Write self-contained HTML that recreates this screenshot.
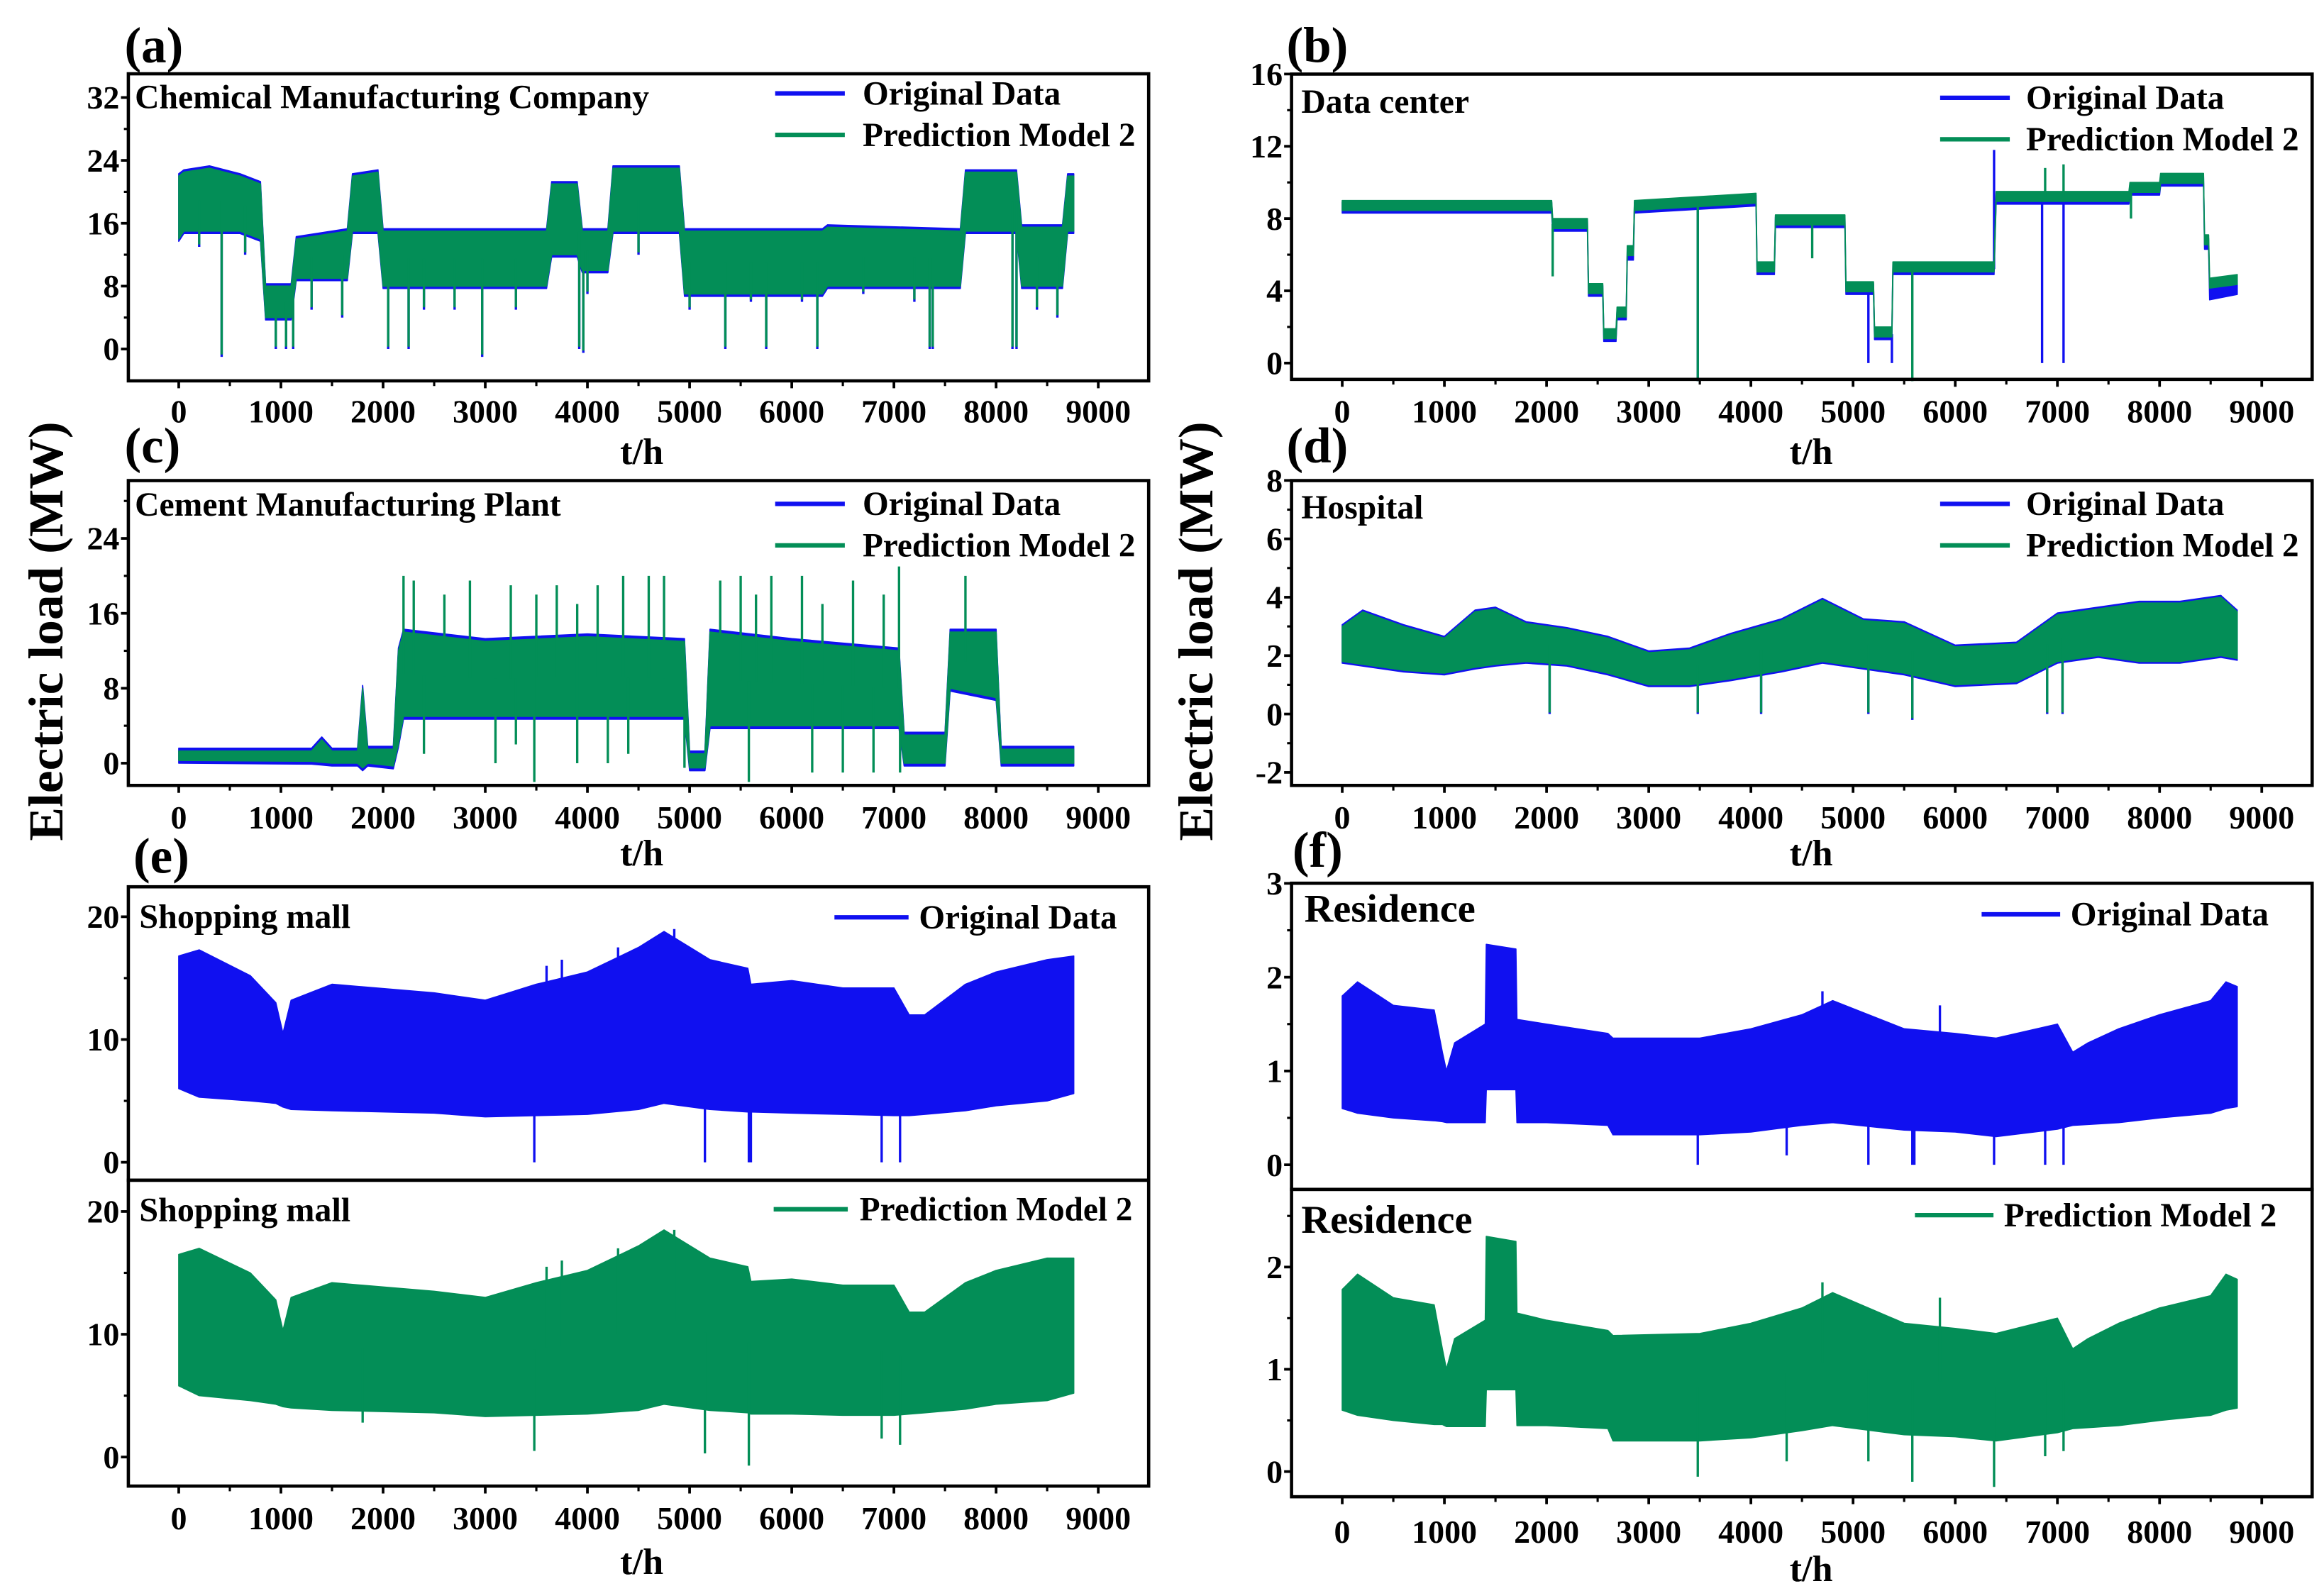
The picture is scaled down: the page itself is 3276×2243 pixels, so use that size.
<!DOCTYPE html>
<html><head><meta charset="utf-8">
<style>
html,body{margin:0;padding:0;background:#fff;}
svg{display:block;font-family:"Liberation Serif","Times New Roman",serif;font-weight:bold;}
</style></head>
<body>
<svg id="fig" xmlns="http://www.w3.org/2000/svg" width="3276" height="2243" viewBox="0 0 1568 1073.6" preserveAspectRatio="none">
<rect x="0" y="0" width="1568" height="1073.6" fill="#fff"/>
</svg>
<script>
// ---------- data (hours, MW) ----------
const xTicks = [0,1000,2000,3000,4000,5000,6000,7000,8000,9000];
// (a) Chemical
const aT  = [0,50,300,600,800,850,1100,1150,1650,1700,1950,2000,3000,3600,3650,3900,3950,4200,4250,4900,4950,6300,6350,7650,7700,8200,8250,8650,8700,8760];
const aHi = [22,22.5,23,22,21,8,8,14,15,22,22.5,15,15,15,21,21,15,15,23,23,15,15,15.5,15,22.5,22.5,15.5,15.5,22,22];
const aLo = [14,15,15,15,14,4,4,9,9,15,15,8,8,8,12,12,10,10,15,15,7,7,8,8,15,15,8,8,15,15];
const aSpikeT = [420,950,1050,1120,2050,2250,2970,3920,3960,5350,5750,6250,7350,7380,8160,8200,200,650,1300,1600,2400,2700,3300,4000,4500,5000,5600,6100,6700,7200,8400,8600];
const aSpikeV = [-1,0,0,0,0,0,-1,0,-0.5,0,0,0,0,0,0,0,13,12,5,4,5,5,5,7,12,5,6,6,7,6,5,4];
// (b) Data center
const bT = [0,2050,2060,2400,2410,2550,2560,2680,2690,2780,2790,2850,2860,4050,4060,4230,4240,4920,4930,5200,5210,5380,5390,6380,6400,7700,7710,8000,8010,8430,8440,8480,8490,8760];
const bPred = [8.7,8.7,7.7,7.7,4.1,4.1,1.6,1.6,2.8,2.8,6.2,6.2,8.7,9.1,5.3,5.3,7.9,7.9,4.2,4.2,1.7,1.7,5.3,5.3,9.2,9.2,9.7,9.7,10.2,10.2,6.8,6.8,4.4,4.6];
const bOrig = [8.6,8.6,7.6,7.6,4.0,4.0,1.5,1.5,2.7,2.7,6.0,6.0,8.6,9.0,5.2,5.2,7.8,7.8,4.1,4.1,1.6,1.6,5.2,5.2,9.1,9.1,9.6,9.6,10.1,10.1,6.6,6.6,3.8,4.1];
const bSpikeTO = [3480,5150,5380,6380,6850,7060];
const bSpikeVO = [-1,0,0,11.8,0,0];
const bSpikeTP = [2060,3480,5580,6880,7060,7720,4600];
const bSpikeVP = [4.8,-1,-1,10.8,11,8,5.8];
// (c) Cement
const cT  = [0,1300,1400,1500,1750,1800,1850,2100,2150,2200,3000,4000,4950,5000,5150,5200,6000,7050,7100,7500,7550,8000,8050,8760];
const cHi = [1.3,1.3,2.5,1.3,1.3,8,1.5,1.5,12,14,13,13.5,13,1,1,14,13,12,3,3,14,14,1.5,1.5];
const cLo = [0.3,0.2,0.1,0,0,-0.5,0,-0.3,2,5,5,5,5,-0.5,-0.5,4,4,4,0,0,8,7,0,0];
const cSpikeT = [2200,2300,2850,3250,3700,4100,4350,4600,4750,5300,5500,5800,6100,6600,7050,7700,2600,3500,3900,5650,6300,6900,3100,3480,3900,4200,4950,5580,6200,6500,6800,7060,2400,3300,4400];
const cSpikeV = [20,19.5,19.5,19,19,19,20,20,20,19.5,20,20,20,19.5,21,20,18,18,17,18,17,18,0,-2,0,0,-0.5,-2,-1,-1,-1,-1,1,2,1];
// (d) Hospital
const dT  = [0,200,600,1000,1300,1500,1800,2200,2600,3000,3400,3800,4300,4700,5100,5500,6000,6600,7000,7400,7800,8200,8600,8760];
const dHi = [3.0,3.5,3.0,2.6,3.5,3.6,3.1,2.9,2.6,2.1,2.2,2.7,3.2,3.9,3.2,3.1,2.3,2.4,3.4,3.6,3.8,3.8,4.0,3.5];
const dLo = [1.8,1.7,1.5,1.4,1.6,1.7,1.8,1.7,1.4,1.0,1.0,1.2,1.5,1.8,1.6,1.4,1.0,1.1,1.8,2.0,1.8,1.8,2.0,1.9];
const dSpikeT = [2030,3480,4100,5150,5580,6900,7050];
const dSpikeV = [0,0,0,0,-0.2,0,0];
// (e) Shopping mall
const eT   = [0,200,700,950,1020,1100,1500,2500,3000,3500,4000,4500,4750,5200,5570,5600,6000,6500,7000,7150,7300,7700,8000,8500,8760];
const eHiO = [16.8,17.3,15.2,13,10.5,13.2,14.5,13.8,13.2,14.5,15.5,17.5,18.8,16.5,15.8,14.5,14.8,14.2,14.2,12,12,14.5,15.5,16.5,16.8];
const eLoO = [6,5.3,5,4.8,4.5,4.3,4.2,4,3.7,3.8,3.9,4.3,4.8,4.3,4.1,4.1,4,3.9,3.8,3.8,3.9,4.2,4.6,5,5.6];
const eHiP = [16.5,17,15,12.8,10.3,13,14.2,13.5,13,14.2,15.2,17.2,18.5,16.2,15.5,14.3,14.5,14,14,11.8,11.8,14.2,15.2,16.2,16.2];
const eLoP = [5.8,5,4.6,4.3,4.1,4,3.8,3.6,3.3,3.4,3.5,3.8,4.3,3.8,3.6,3.5,3.5,3.4,3.4,3.5,3.6,3.9,4.3,4.6,5.2];
const eSpikeTO = [3480,5150,5580,5600,6880,7060,3600,3750,4300,4850];
const eSpikeVO = [0,0,0,0,0,0,16,16.5,17.5,19];
const eSpikeTP = [3480,5150,5580,6880,7060,1800,3600,3750,4300,4850];
const eSpikeVP = [0.5,0.3,-0.7,1.5,1,2.8,15.5,16,17,18.5];
// (f) Residence
const fT   = [0,150,500,900,980,1020,1100,1400,1410,1700,1710,2000,2600,2650,3500,4000,4500,4800,5500,6000,6400,7000,7150,7300,7600,8000,8500,8650,8760];
const fHiO = [1.8,1.95,1.7,1.65,1.2,1.0,1.3,1.5,2.35,2.3,1.55,1.5,1.4,1.35,1.35,1.45,1.6,1.75,1.45,1.4,1.35,1.5,1.2,1.3,1.45,1.6,1.75,1.95,1.9];
const fLoO = [0.6,0.55,0.5,0.47,0.46,0.45,0.45,0.45,0.8,0.8,0.45,0.45,0.42,0.32,0.32,0.35,0.42,0.45,0.37,0.35,0.3,0.38,0.42,0.43,0.45,0.5,0.55,0.6,0.62];
const fHiP = [1.78,1.93,1.7,1.63,1.2,1.0,1.3,1.48,2.3,2.25,1.55,1.48,1.38,1.33,1.35,1.45,1.6,1.75,1.45,1.4,1.35,1.5,1.2,1.3,1.45,1.6,1.72,1.93,1.88];
const fLoP = [0.6,0.55,0.5,0.46,0.46,0.44,0.44,0.44,0.8,0.8,0.45,0.45,0.42,0.3,0.3,0.33,0.4,0.45,0.36,0.34,0.3,0.38,0.42,0.43,0.45,0.5,0.55,0.6,0.62];
const fSpikeTO = [3480,4350,5150,5580,5600,6380,6880,7060,4700,5850];
const fSpikeVO = [0,0.1,0,0,0,0,0,0,1.85,1.7];
const fSpikeTP = [3480,4350,5150,5580,6380,6880,7060,4700,5850];
const fSpikeVP = [-0.05,0.1,0.1,-0.1,-0.15,0.15,0.2,1.85,1.7];

// ---------- drawing ----------
const NS = "http://www.w3.org/2000/svg";
const fig = document.getElementById('fig');
const BLUE = "#1010f0", GREEN = "#038e57";
function mk(tag, attrs, parent){
  const e = document.createElementNS(NS, tag);
  for (const k in attrs) e.setAttribute(k, attrs[k]);
  (parent||fig).appendChild(e);
  return e;
}
function txt(s, x, y, size, anchor, parent){
  const t = mk('text', {x:x, y:y, 'font-size':size, 'text-anchor':anchor||'start', fill:'#000'}, parent);
  t.textContent = s;
  return t;
}
function xScale(col){ const off = col*785; return t => off + 120.6 + t*620.4/9000; }
function yScale(y0,k){ return v => y0 - v*k; }
function interp(ts, vs, t){
  if (t<=ts[0]) return vs[0];
  for (let i=1;i<ts.length;i++){ if (t<=ts[i]){ const f=(t-ts[i-1])/(ts[i]-ts[i-1]); return vs[i-1]+f*(vs[i]-vs[i-1]); } }
  return vs[vs.length-1];
}
function band(name, ts, hi, lo, xf, yf, color){
  let p = [];
  for (let i=0;i<ts.length;i++) p.push(xf(ts[i]).toFixed(2)+','+yf(hi[i]).toFixed(2));
  for (let i=ts.length-1;i>=0;i--) p.push(xf(ts[i]).toFixed(2)+','+yf(lo[i]).toFixed(2));
  const pg = mk('polygon', {points:p.join(' '), fill:color, stroke:color, 'stroke-width':0.8, 'stroke-linejoin':'round'});
  
  
  return pg;
}
function spikes(name, sT, sV, ts, hi, lo, xf, yf, color){
  for (let i=0;i<sT.length;i++){
    const mid = (interp(ts,hi,sT[i]) + interp(ts,lo,sT[i]))/2;
    const l = mk('line', {x1:xf(sT[i]), x2:xf(sT[i]), y1:yf(mid), y2:yf(sV[i]), stroke:color, 'stroke-width':1.6});
    
    
  }
}
function axesBox(name, col, top, bottom, yf, ticks, minorStep, showX, xLabY, thY){
  const left = col ? 871.4 : 86.6, right = col ? 1560 : 775;
  const xf = xScale(col);
  const g = mk('g', {});
  
  
  mk('rect', {x:left, y:top, width:right-left, height:bottom-top, fill:'none', stroke:'#000', 'stroke-width':2.2}, g);
  for (const v of ticks){
    const y = yf(v);
    mk('line', {x1:left-5, x2:left, y1:y, y2:y, stroke:'#000', 'stroke-width':1.8}, g);
    const t = txt(String(v), left-6, y+7.5, 22, 'end', g);
    
    
    const ym = yf(v+minorStep);
    if (ym>top+1) mk('line', {x1:left-3, x2:left, y1:ym, y2:ym, stroke:'#000', 'stroke-width':1.5}, g);
  }
  if (showX){
    for (const tk of xTicks){
      const x = xf(tk);
      mk('line', {x1:x, x2:x, y1:bottom, y2:bottom+5, stroke:'#000', 'stroke-width':1.8}, g);
      const xm = xf(tk-500);
      if (xm>left) mk('line', {x1:xm, x2:xm, y1:bottom, y2:bottom+3.5, stroke:'#000', 'stroke-width':1.5}, g);
      const t = txt(String(tk), x, xLabY, 22, 'middle', g);
      
      
    }
    const xm = xf(9500); if (xm<right) mk('line', {x1:xm,x2:xm,y1:bottom,y2:bottom+3.5,stroke:'#000','stroke-width':1.5}, g);
    const th = txt('t/h', col?1222:433, thY, 25, 'middle', g);
    
    
  }
  return g;
}
function legend(name, x1, x2, y, color, label, tx){
  const g = mk('g', {});
  
  
  mk('line', {x1:x1, x2:x2, y1:y, y2:y, stroke:color, 'stroke-width':3}, g);
  txt(label, tx, y+7.5, 22.6, 'start', g);
}
function title(name, s, x, y, size){
  const t = txt(s, x, y, size||22.8, 'start');
  
  
}

// panel (a)
{ const xf=xScale(0), yf=yScale(235.5,5.303);
  band('a-original-band', aT, aHi.map(v=>v+0.3), aLo.map(v=>v-0.3), xf, yf, BLUE);
  spikes('a-original-spike', aSpikeT, aSpikeV, aT, aHi, aLo, xf, yf, BLUE);
  band('a-prediction-band', aT, aHi, aLo, xf, yf, GREEN);
  spikes('a-prediction-spike', aSpikeT, aSpikeV.map(v=>v+0.3), aT, aHi, aLo, xf, yf, GREEN);
  axesBox('panel-a-axes', 0, 49.8, 257, yf, [0,8,16,24,32], 4, true, 285, 313);
  title('panel-a-title','Chemical Manufacturing Company', 91, 73);
  legend('legend-original-a', 523, 570, 63, BLUE, 'Original Data', 582);
  legend('legend-prediction-a', 523, 570, 91, GREEN, 'Prediction Model 2', 582);
}
// panel (b)
{ const xf=xScale(1), yf=yScale(245,12.19);
  band('b-original-band', bT, bOrig.map(v=>v+0.3), bOrig.map(v=>v-0.3), xf, yf, BLUE);
  spikes('b-original-spike', bSpikeTO, bSpikeVO, bT, bOrig, bOrig, xf, yf, BLUE);
  band('b-prediction-band', bT, bPred.map(v=>v+0.3), bPred.map(v=>v-0.25), xf, yf, GREEN);
  spikes('b-prediction-spike', bSpikeTP, bSpikeVP, bT, bPred, bPred, xf, yf, GREEN);
  axesBox('panel-b-axes', 1, 50, 256, yf, [0,4,8,12,16], 2, true, 285, 313);
  title('panel-b-title','Data center', 878, 76);
  legend('legend-original-b', 1309, 1356, 66, BLUE, 'Original Data', 1367);
  legend('legend-prediction-b', 1309, 1356, 94, GREEN, 'Prediction Model 2', 1367);
}
// panel (c)
{ const xf=xScale(0), yf=yScale(515,6.32);
  band('c-original-band', cT, cHi.map(v=>v+0.3), cLo.map(v=>v-0.3), xf, yf, BLUE);
  band('c-prediction-band', cT, cHi, cLo, xf, yf, GREEN);
  spikes('c-prediction-spike', cSpikeT, cSpikeV, cT, cHi, cLo, xf, yf, GREEN);
  axesBox('panel-c-axes', 0, 324.3, 530, yf, [0,8,16,24], 4, true, 559, 584);
  title('panel-c-title','Cement Manufacturing Plant', 91, 348);
  legend('legend-original-c', 523, 570, 340, BLUE, 'Original Data', 582);
  legend('legend-prediction-c', 523, 570, 368, GREEN, 'Prediction Model 2', 582);
}
// panel (d)
{ const xf=xScale(1), yf=yScale(481.8,19.7);
  band('d-original-band', dT, dHi.map(v=>v+0.06), dLo.map(v=>v-0.06), xf, yf, BLUE);
  spikes('d-original-spike', dSpikeT, dSpikeV, dT, dHi, dLo, xf, yf, BLUE);
  band('d-prediction-band', dT, dHi, dLo, xf, yf, GREEN);
  spikes('d-prediction-spike', dSpikeT, dSpikeV.map(v=>v+0.05), dT, dHi, dLo, xf, yf, GREEN);
  axesBox('panel-d-axes', 1, 324.3, 530, yf, [-2,0,2,4,6,8], 1, true, 559, 584);
  title('panel-d-title','Hospital', 878, 350);
  legend('legend-original-d', 1309, 1356, 340, BLUE, 'Original Data', 1367);
  legend('legend-prediction-d', 1309, 1356, 368, GREEN, 'Prediction Model 2', 1367);
}
// panel (e)
{ const xf=xScale(0), yT=yScale(784.3,8.285), yB=yScale(983.2,8.285);
  band('e-original-band', eT, eHiO, eLoO, xf, yT, BLUE);
  spikes('e-original-spike', eSpikeTO, eSpikeVO, eT, eHiO, eLoO, xf, yT, BLUE);
  band('e-prediction-band', eT, eHiP, eLoP, xf, yB, GREEN);
  spikes('e-prediction-spike', eSpikeTP, eSpikeVP, eT, eHiP, eLoP, xf, yB, GREEN);
  axesBox('panel-e-top-axes', 0, 598.4, 796.4, yT, [0,10,20], 5, false);
  axesBox('panel-e-bottom-axes', 0, 796.4, 1002.8, yB, [0,10,20], 5, true, 1032, 1062);
  title('panel-e-top-title','Shopping mall', 94, 626, 23);
  title('panel-e-bottom-title','Shopping mall', 94, 824, 23);
  legend('legend-original-e', 563, 613, 619, BLUE, 'Original Data', 620);
  legend('legend-prediction-e', 522, 572, 816, GREEN, 'Prediction Model 2', 580);
}
// panel (f)
{ const xf=xScale(1), yT=yScale(786,63.3), yB=yScale(993,69);
  band('f-original-band', fT, fHiO, fLoO, xf, yT, BLUE);
  spikes('f-original-spike', fSpikeTO, fSpikeVO, fT, fHiO, fLoO, xf, yT, BLUE);
  band('f-prediction-band', fT, fHiP, fLoP, xf, yB, GREEN);
  spikes('f-prediction-spike', fSpikeTP, fSpikeVP, fT, fHiP, fLoP, xf, yB, GREEN);
  axesBox('panel-f-top-axes', 1, 596, 802.6, yT, [0,1,2,3], 0.5, false);
  axesBox('panel-f-bottom-axes', 1, 802.6, 1010, yB, [0,1,2], 0.5, true, 1041, 1067);
  title('panel-f-top-title','Residence', 880, 622, 27);
  title('panel-f-bottom-title','Residence', 878, 832, 27);
  legend('legend-original-f', 1337, 1390, 617, BLUE, 'Original Data', 1397);
  legend('legend-prediction-f', 1292, 1345, 820, GREEN, 'Prediction Model 2', 1352);
}
// panel letters
[['(a)',84,42],['(b)',868,42],['(c)',84,312],['(d)',868,312],['(e)',90,589],['(f)',872,585]].forEach(function(p){
  const t = txt(p[0], p[1], p[2], 34, 'start');
  
  
});
// y-axis titles
[30, 806].forEach(function(x){
  const t = mk('text', {x:0, y:0, 'font-size':33, 'text-anchor':'middle', transform:'translate('+(x+12)+',426) rotate(-90)', textLength:283, lengthAdjust:'spacingAndGlyphs'});
  t.textContent = 'Electric load (MW)';
  
  
});
</script>
</body></html>
